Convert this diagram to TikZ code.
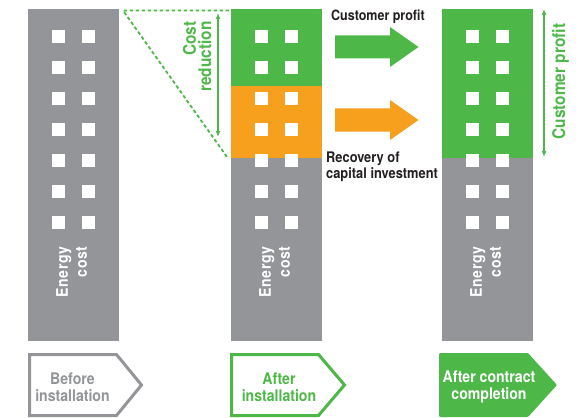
\documentclass[tikz,border=0pt]{standalone}
\usepackage{fontspec}
\setmainfont{TeX Gyre Heros}[FakeStretch=0.88]
\definecolor{costgray}{RGB}{147,149,152}
\definecolor{savegreen}{RGB}{77,184,72}
\definecolor{payorange}{RGB}{246,160,30}
\definecolor{textdark}{RGB}{35,31,32}
\usetikzlibrary{arrows.meta,calc}

\begin{document}
\begin{tikzpicture}[
      x=1pt,
      y=-1pt,
      font=\bfseries,
      tower/.style={
        inner sep=0pt, outer sep=0pt, anchor=north,
        minimum width=91pt, minimum height=332pt
      },
      section/.style={inner sep=0pt, outer sep=0pt, anchor=north, minimum width=91pt},
      window/.style={fill=white},
      energy/.style={rotate=90, align=right, text=white, inner sep=0pt,
        font=\fontsize{16}{19}\selectfont\bfseries\addfontfeatures{LetterSpace=4}},
      sidenote/.style={rotate=90, align=right, text=savegreen, inner sep=0pt},
      note/.style={align=left, text=textdark, inner sep=0pt,
        font=\fontsize{14.6}{16}\selectfont\bfseries},
      span/.style={{Latex[length=6pt,width=5pt]}-{Latex[length=6pt,width=5pt]},
        savegreen, line width=1.4pt},
      tag/.style={line width=3pt, line join=miter, fill=white},
      tagtext/.style={align=center, inner sep=0pt,
        font=\fontsize{16}{17.5}\selectfont\bfseries}
    ]
    \useasboundingbox (0,0) rectangle (588,417);

    \node[tower, fill=costgray] (before) at (73.5,9) {};
    \node[tower, fill=costgray] (after) at (276.5,9) {};
    \node[tower, fill=costgray] (final) at (487.5,9) {};

    \node[section, fill=savegreen, minimum height=77pt] (afterprofit) at (after.north) {};
    \node[section, fill=payorange, minimum height=71.7pt] (afterpayback) at (afterprofit.south) {};
    \node[section, fill=savegreen, minimum height=148.7pt] (finalprofit) at (final.north) {};

    \foreach \b in {before,after,final}
      \foreach \r in {0,...,6} {
        \fill[window] ($(\b.north)+(-22,21+31*\r)$) rectangle ++(13,13);
        \fill[window] ($(\b.north)+(8,21+31*\r)$) rectangle ++(13,13);
      }

    \foreach \b in {before,after,final}
      \node[energy] (\b energy) at ($(\b.south)+(-2,-69)$) {Energy\\cost};

    % cost reduction
    \coordinate (dropstart) at (123,10.5);
    \coordinate (dropend) at (229,10.5);
    \coordinate (droplow) at (227,157);
    \draw[savegreen, line width=1.8pt, dash pattern=on 3.5pt off 2.5pt]
      (dropend) -- (dropstart) -- (droplow);
    \coordinate (cuttop) at (218,13);
    \coordinate (cutlow) at (218,137);
    \draw[span] (cuttop) -- (cutlow);
    \node[sidenote, font=\fontsize{17.5}{15.3}\selectfont\bfseries] (cuttext) at (197,56.5)
      {Cost\\reduction};

    % block arrows
    \foreach \y/\c in {47/savegreen,120/payorange}
      \fill[\c] (335,\y-11.5) -- (390,\y-11.5) -- (390,\y-20) -- (418.5,\y)
        -- (390,\y+20) -- (390,\y+11.5) -- (335,\y+11.5) -- cycle;
    \node[note, anchor=base west, font=\fontsize{14.2}{16}\selectfont\bfseries]
      (profitlabel) at (331,20.7) {Customer profit};
    \node[note, anchor=north west] (paybacklabel) at (326,151.5)
      {Recovery of\\capital investment};

    \coordinate (gaintop) at (544,9);
    \coordinate (gainlow) at (544,157);
    \draw[span] (gaintop) -- (gainlow);
    \node[sidenote, font=\fontsize{17.5}{20}\selectfont\bfseries] (gaintext) at (560.5,81.5)
      {Customer profit};

    % stage tags
    \draw[tag, draw=costgray] (29.5,354.5) -- (116.5,354.5) -- (141.5,385)
      -- (116.5,415.5) -- (29.5,415.5) -- cycle;
    \node[tagtext, text=costgray] (beforetag) at (72.5,387) {Before\\installation};

    \draw[tag, draw=savegreen] (231.5,354.5) -- (318.5,354.5) -- (344.5,385)
      -- (318.5,415.5) -- (231.5,415.5) -- cycle;
    \node[tagtext, text=savegreen] (aftertag) at (279,387) {After\\installation};

    \fill[savegreen, rounded corners=1pt] (439,353) -- (528,353) -- (557,385)
      -- (528,417) -- (439,417) -- cycle;
    \node[tagtext, text=white] (finaltag) at (489,387) {After contract\\completion};
  \end{tikzpicture}
\end{document}
